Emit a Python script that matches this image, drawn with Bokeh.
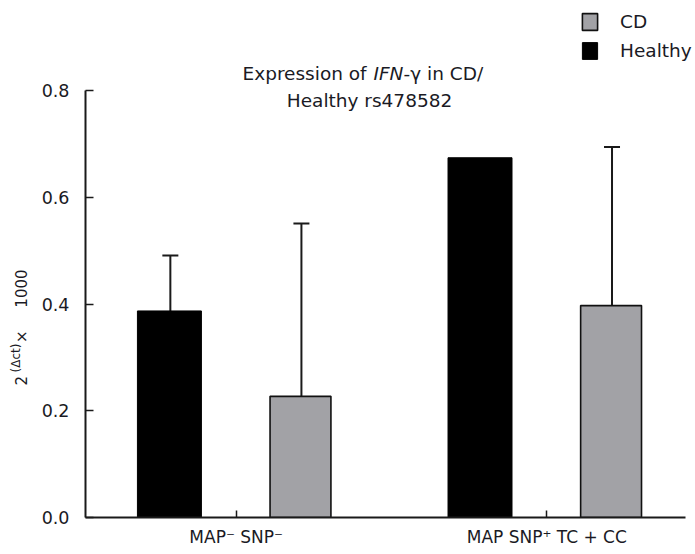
import math
from bokeh.plotting import figure
from bokeh.models import (ColumnDataSource, Range1d, FixedTicker, Whisker, TeeHead,
                          Legend, LegendItem, Label)
from bokeh.embed import file_html
from bokeh.resources import INLINE

# ---- data ----
categories = ["MAP\u207b SNP\u207b", "MAP SNP\u207a TC + CC"]
healthy = [0.387, 0.674]
healthy_err = [0.104, 0.0]
cd = [0.227, 0.397]
cd_err = [0.324, 0.297]
y_ticks = [0.0, 0.2, 0.4, 0.6, 0.8]

W, H = 695, 554
FONT = "DejaVu Sans"
TXT = "#1a1a24"
GRAY = "#a2a2a6"

idx = list(range(1, len(categories) + 1))
off_h, off_c = -0.215, 0.207

# frame: left 85, bottom 517, extends to top and right edges (axes bounded)
FL, FB = 85, 517
y_end = 0.8 + 90 / 533.75
p = figure(width=W, height=H, output_backend="svg", toolbar_location=None,
           x_range=Range1d(0.5148, 2.4788), y_range=Range1d(0, y_end),
           min_border_left=FL, min_border_right=0, min_border_top=0,
           min_border_bottom=H - FB, title=None)
p.outline_line_color = None
p.xgrid.visible = False
p.ygrid.visible = False
p.background_fill_color = "white"
p.border_fill_color = "white"

src_h = ColumnDataSource(dict(x=[i + off_h for i in idx], top=healthy))
src_c = ColumnDataSource(dict(x=[i + off_c for i in idx], top=cd))
r_h = p.vbar(x="x", top="top", width=0.206, bottom=0, source=src_h,
             fill_color="black", line_color="black", line_width=1)
r_c = p.vbar(x="x", top="top", width=0.196, bottom=0, source=src_c,
             fill_color=GRAY, line_color="#111111", line_width=1.6)

# error bars (only non-zero)
bx, lo, hi = [], [], []
for i, v, e in zip(idx, healthy, healthy_err):
    if e > 0:
        bx.append(i + off_h + 0.003); lo.append(v); hi.append(v + e)
for i, v, e in zip(idx, cd, cd_err):
    if e > 0:
        bx.append(i + off_c + 0.003); lo.append(v); hi.append(v + e)
src_e = ColumnDataSource(dict(base=bx, lower=lo, upper=hi))
wk = Whisker(base="base", lower="lower", upper="upper", source=src_e,
             dimension="height", line_color="#1a1a1a", line_width=2,
             upper_head=TeeHead(size=16, line_color="#1a1a1a", line_width=2),
             lower_head=None)
p.add_layout(wk)

# axes
for ax in (p.xaxis[0], p.yaxis[0]):
    ax.axis_line_width = 2
    ax.axis_line_color = "#1a1a1a"
    ax.major_tick_line_width = 1.5
    ax.major_tick_line_color = "#1a1a1a"
    ax.major_tick_in = 8
    ax.major_tick_out = 0
    ax.minor_tick_line_color = None
    ax.major_label_text_font = FONT
    ax.major_label_text_color = TXT
p.xaxis.bounds = (0.5148, 2.4466)
p.xaxis.ticker = FixedTicker(ticks=idx)
p.xaxis.major_label_overrides = {i: c for i, c in zip(idx, categories)}
p.xaxis.major_label_standoff = 9
p.xaxis.major_tick_in = 7
p.xaxis.major_label_text_font_size = "17px"
p.yaxis.bounds = (0, 0.8)
p.yaxis.ticker = FixedTicker(ticks=y_ticks)
p.yaxis.major_label_overrides = {t: f"{t:.1f}" for t in y_ticks}
p.yaxis.major_label_standoff = 16
p.yaxis.major_label_text_font_size = "17.5px"

# legend (inside the extended frame, top-right)
leg = Legend(items=[LegendItem(label="CD", renderers=[r_c]),
                    LegendItem(label="Healthy", renderers=[r_h])],
             location=(580 - FL, FB - 11 - 50), orientation="vertical",
             glyph_width=19, glyph_height=21, label_height=21, spacing=8,
             label_standoff=21, padding=0, margin=0,
             border_line_color=None, background_fill_alpha=0,
             label_text_font=FONT, label_text_font_size="18.5px",
             label_text_color=TXT, label_text_baseline="middle")
p.add_layout(leg, "center")

def lab(text, cx, cy, size, align="left", style="normal"):
    # cx, cy: picture pixels from top-left; Label screen units are frame-relative
    p.add_layout(Label(x=cx - FL, y=FB - cy, x_units="screen", y_units="screen",
                       text=text, text_font=FONT, text_font_size=size,
                       text_font_style=style, text_color=TXT, text_align=align,
                       text_baseline="middle"))

# chart title (two lines, IFN in italic)
fs = "18.5px"
lab("Expression of ", 242, 73, fs)
lab("IFN", 373, 73, fs, style="italic")
lab("-\u03b3 in CD/", 403, 73, fs)
lab("Healthy rs478582", 369, 100, fs, align="center")

# y axis label: two rotated labels in the left side panel (not clipped)
p.add_layout(Label(x=1.6, y=FB - 385, x_units="screen", y_units="screen",
                   text="2\u2003\u2003\u2009\u00d7\u2003\u2009 1000",
                   text_font=FONT, text_font_size="15px", text_color=TXT,
                   text_align="left", text_baseline="middle",
                   angle=math.pi / 2), "left")
p.add_layout(Label(x=9.0, y=FB - 372, x_units="screen", y_units="screen",
                   text="(\u0394ct)", text_font=FONT, text_font_size="12px",
                   text_color=TXT, text_align="left", text_baseline="middle",
                   angle=math.pi / 2), "left")

open("out.html", "w").write(file_html(p, INLINE))
